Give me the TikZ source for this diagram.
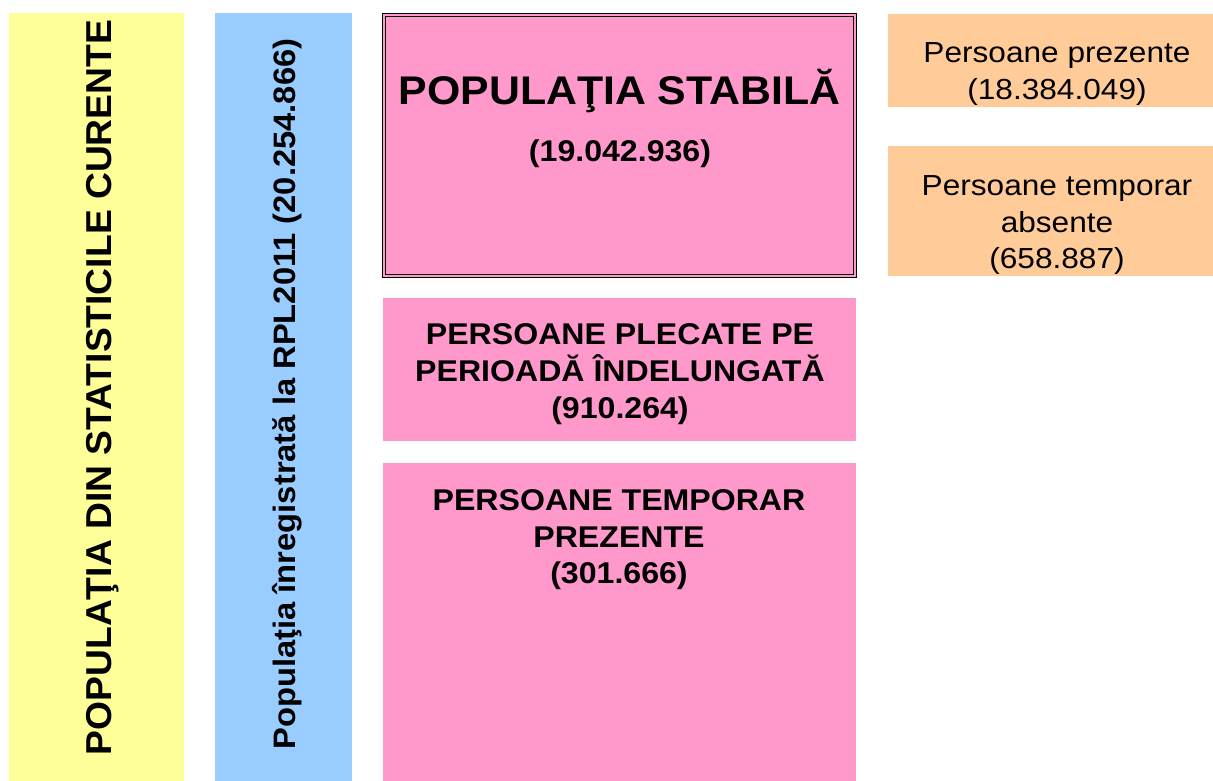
\documentclass[tikz,border=0pt]{standalone}
\usepackage{fontspec}
\setmainfont{Liberation Sans}
\newfontfamily\hfont[FakeStretch=1.07]{Liberation Sans}
\newfontfamily\hrfont[FakeStretch=1.09]{Liberation Sans}
\newfontfamily\vyfont[FakeStretch=1.035]{Liberation Sans}
\newfontfamily\vbfont[FakeStretch=1.055]{Liberation Sans}
\definecolor{yelfill}{HTML}{FFFF99}
\definecolor{bluefill}{HTML}{99CCFF}
\definecolor{pinkfill}{HTML}{FF99CC}
\definecolor{orafill}{HTML}{FFCC99}
\tikzset{
  box/.style={rectangle, anchor=north west, inner sep=0pt, outer sep=0pt},
  line/.style={anchor=base, inner sep=0pt},
  bigbold/.style={font=\hfont\bfseries\fontsize{40}{46}\selectfont},
  midbold/.style={font=\hfont\bfseries\fontsize{30}{37}\selectfont},
  midreg/.style={font=\hrfont\fontsize{29}{37}\selectfont},
}
\begin{document}
\begin{tikzpicture}[x=1pt,y=-1pt]
\useasboundingbox (0,0) rectangle (1213,781);
% columns
\node[box, fill=yelfill, minimum width=175pt, minimum height=768pt] (yel) at (9,13) {};
\node[box, fill=bluefill, minimum width=137pt, minimum height=768pt] (blu) at (215,13) {};
% stable population box with double border
\node[box, fill=pinkfill, draw=black, line width=1pt, double=pinkfill, double distance=2pt,
      minimum width=471pt, minimum height=261pt] (stab) at (384,15) {};
\node[box, fill=pinkfill, minimum width=473pt, minimum height=143pt] (plec) at (383,298) {};
\node[box, fill=pinkfill, minimum width=473pt, minimum height=318pt] (temp) at (383,463) {};
\node[box, fill=orafill, minimum width=325pt, minimum height=93pt] (prez) at (888,14) {};
\node[box, fill=orafill, minimum width=325pt, minimum height=130pt] (abs) at (888,146) {};
% vertical texts
\node[line, rotate=90, font=\vyfont\bfseries\fontsize{36}{40}\selectfont] (tyel) at (111,387.5)
  {POPULAŢIA DIN STATISTICILE CURENTE};
\node[line, rotate=90, font=\vbfont\bfseries\fontsize{31}{36}\selectfont] (tblu) at (295,394)
  {Populaţia înregistrată la RPL2011 (20.254.866)};
% stable
\node[line, bigbold] (s1) at (619.5,105) {POPULAŢIA STABILĂ};
\node[line, midbold] (s2) at (620,161) {(19.042.936)};
% plecate
\node[line, midbold] (p1) at (620,344) {PERSOANE PLECATE PE};
\node[line, midbold] (p2) at (620,381) {PERIOADĂ ÎNDELUNGATĂ};
\node[line, midbold] (p3) at (620,418) {(910.264)};
% temporar prezente
\node[line, midbold] (q1) at (619,510) {PERSOANE TEMPORAR};
\node[line, midbold] (q2) at (619,547) {PREZENTE};
\node[line, midbold] (q3) at (619,583) {(301.666)};
% orange
\node[line, midreg] (o1) at (1057,63) {Persoane prezente};
\node[line, midreg] (o2) at (1057,100) {(18.384.049)};
\node[line, midreg] (o3) at (1057,195) {Persoane temporar};
\node[line, midreg] (o4) at (1057,232) {absente};
\node[line, midreg] (o5) at (1057,268) {(658.887)};
\end{tikzpicture}
\end{document}
